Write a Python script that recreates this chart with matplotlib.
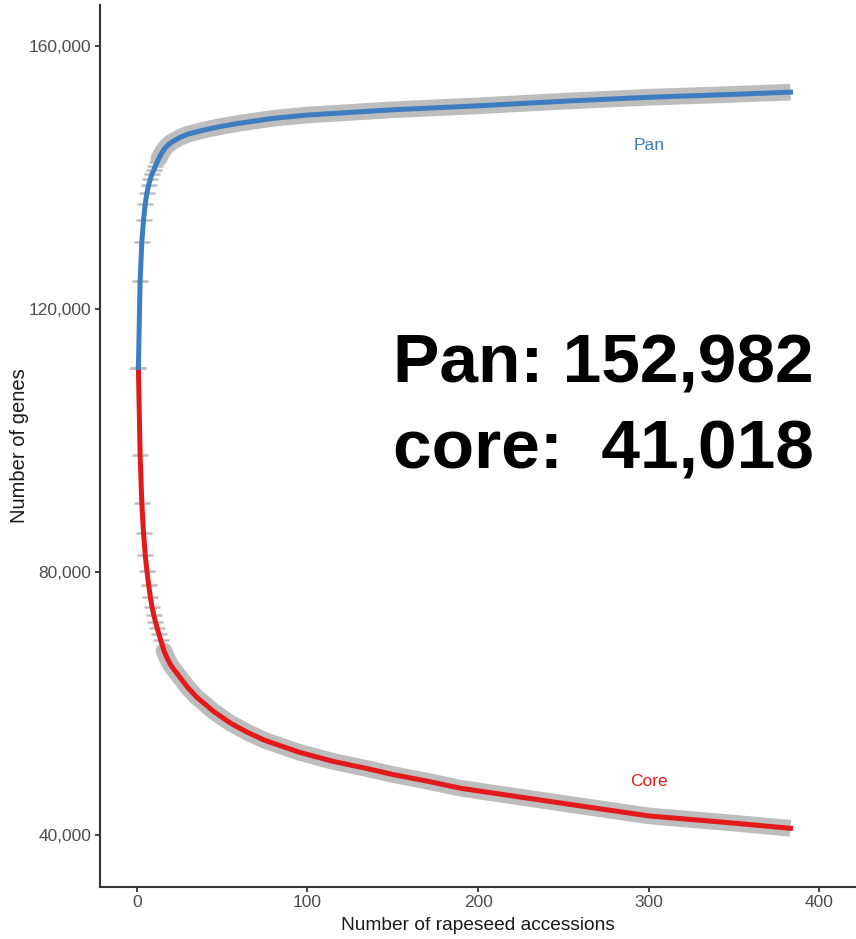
import matplotlib
matplotlib.use('Agg')
import matplotlib.pyplot as plt
from matplotlib.ticker import FuncFormatter

plt.rcParams['font.family'] = ['Liberation Sans', 'DejaVu Sans']

# 数据：泛基因组/核心基因组曲线
pan_n = [1, 2, 3, 4, 5, 6, 7, 8, 9, 10, 11, 12, 13, 14, 15, 17, 20, 25, 30,
         40, 50, 60, 80, 100, 150, 200, 250, 300, 350, 383]
pan_genes = [111100, 124260, 130190, 133540, 135970, 137650, 138860, 139780,
             140540, 141150, 141750, 142360, 142900, 143400, 143850, 144600,
             145300, 146050, 146600, 147250, 147800, 148250, 149000, 149500,
             150300, 150900, 151600, 152200, 152650, 152982]

core_n = [1, 2, 3, 4, 5, 6, 7, 8, 9, 10, 11, 12, 13, 14, 16, 18, 20, 25, 30,
          35, 45, 55, 65, 75, 95, 115, 135, 150, 170, 190, 250, 300, 350, 383]
core_genes = [111100, 97800, 90500, 85930, 82590, 80150, 78020, 76200, 74680,
              73460, 72400, 71490, 70570, 69700, 68000, 66800, 65800, 64100,
              62400, 61000, 58800, 57000, 55600, 54400, 52600, 51200, 50100,
              49200, 48200, 47100, 44800, 42900, 41800, 41018]

x_ticks = [0, 100, 200, 300, 400]
y_ticks = [40000, 80000, 120000, 160000]

pan_color = '#3b7dbf'
core_color = '#e31a1c'
band_color = '#bdbdbd'

fig = plt.figure(figsize=(8.56, 9.39), dpi=100)
ax = fig.add_axes((100 / 856, 52 / 939, 756 / 856, 882 / 939))


def draw_band(n, genes, start, split):
    # 起始处用圆头，末端用平头
    ax.plot(n[start:split + 1], genes[start:split + 1], color=band_color,
            linewidth=12, solid_capstyle='round', zorder=1)
    ax.plot(n[split:], genes[split:], color=band_color,
            linewidth=12, solid_capstyle='butt', zorder=1)
    # 前面几个点的误差短横线
    ax.plot(n[:start + 1], genes[:start + 1], linestyle='none', marker='_',
            markersize=11.5, markeredgewidth=1.8, color=band_color, zorder=1)


draw_band(pan_n, pan_genes, pan_n.index(13), pan_n.index(100))
draw_band(core_n, core_genes, core_n.index(16), core_n.index(95))

ax.plot(core_n, core_genes, color=core_color, linewidth=3.6, zorder=2)
ax.plot(pan_n, pan_genes, color=pan_color, linewidth=3.6, zorder=3)

ax.set_xlim(-21.5, 421.4)
ax.set_ylim(32090, 166236)
ax.set_xticks(x_ticks)
ax.set_yticks(y_ticks)
ax.yaxis.set_major_formatter(FuncFormatter(lambda v, p: f'{int(v):,}'))

for side in ['top', 'right']:
    ax.spines[side].set_visible(False)
for side in ['left', 'bottom']:
    ax.spines[side].set_color('#333333')
    ax.spines[side].set_linewidth(1.5)
ax.tick_params(length=3.6, width=1.3, color='#333333', labelcolor='#4d4d4d',
               labelsize=12.5, pad=2.5)

fig.text(649 / 856, 1 - 146 / 939, 'Pan', color=pan_color, fontsize=12.5,
         ha='center', va='center')
fig.text(649 / 856, 1 - 782 / 939, 'Core', color=core_color, fontsize=12.5,
         ha='center', va='center')

fig.text(478 / 856, 1 - 925 / 939, 'Number of rapeseed accessions', fontsize=13.8,
         color='#1a1a1a', ha='center', va='center')
fig.text(20 / 856, 1 - 446 / 939, 'Number of genes', fontsize=14.5, rotation=90,
         color='#1a1a1a', ha='center', va='center')

# 大号注释文字
fig.text(393 / 856, 1 - 383 / 939, 'Pan: 152,982', fontsize=50, fontweight='bold',
         ha='left', va='baseline')
fig.text(393 / 856, 1 - 468 / 939, 'core:  41,018', fontsize=50, fontweight='bold',
         ha='left', va='baseline')

fig.savefig('out.png', dpi=100)
